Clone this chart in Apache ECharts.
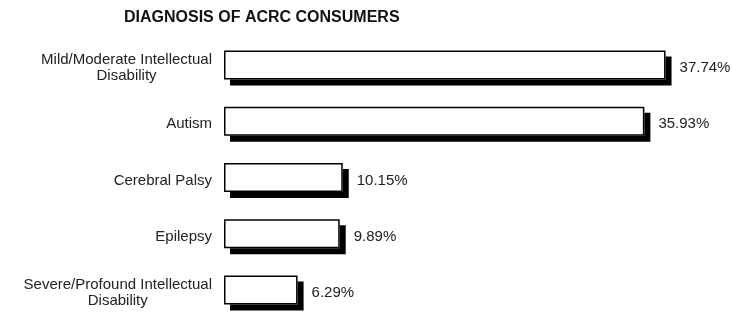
<!DOCTYPE html>
<html>
<head>
<meta charset="utf-8">
<script src="https://cdn.jsdelivr.net/npm/echarts@6/dist/echarts.min.js"></script>
<style>
  html, body { margin: 0; padding: 0; background: #fff; }
  #chart { width: 732px; height: 318px; }
</style>
</head>
<body>
<div id="chart"></div>
<script>
const categories = [
  'Mild/Moderate Intellectual\nDisability',
  'Autism',
  'Cerebral Palsy',
  'Epilepsy',
  'Severe/Profound Intellectual\nDisability'
];
const shares = [37.74, 35.93, 10.15, 9.89, 6.29];

const chart = echarts.init(document.getElementById('chart'));
const labelFont = { fontFamily: '"Liberation Sans", Arial, sans-serif', fontSize: 15, color: '#222' };

chart.setOption({
  animation: false,
  title: {
    text: 'DIAGNOSIS OF ACRC CONSUMERS',
    left: 124,
    top: 10,
    padding: 0,
    textStyle: {
      fontFamily: '"Liberation Sans", Arial, sans-serif',
      fontWeight: 'bold',
      fontSize: 16,
      color: '#111'
    }
  },
  grid: { left: 224, top: 36.75, width: 468, height: 287.5, containLabel: false },
  xAxis: {
    type: 'value',
    min: 0,
    max: 40,
    show: false
  },
  yAxis: {
    type: 'category',
    data: categories,
    inverse: true,
    axisLine: { show: false },
    axisTick: { show: false },
    splitLine: { show: false },
    axisLabel: {
      margin: 12,
      align: 'right',
      padding: [6, 0, 0, 0],
      ...labelFont,
      lineHeight: 16,
      formatter: v => v.split('\n').map(s => `{c|${s}}`).join('\n'),
      rich: {
        c: { ...labelFont, lineHeight: 16, align: 'center' }
      }
    }
  },
  series: [
    {
      // filled bar that casts the solid black drop shadow
      type: 'bar',
      data: shares,
      barWidth: 29,
      barGap: '-100%',
      silent: true,
      itemStyle: {
        color: '#fff',
        shadowColor: '#000',
        shadowBlur: 0,
        shadowOffsetX: 6,
        shadowOffsetY: 6
      }
    },
    {
      // outline on top, no shadow
      type: 'bar',
      data: shares,
      barWidth: 29,
      barGap: '-100%',
      itemStyle: {
        color: 'rgba(0,0,0,0)',
        borderColor: '#000',
        borderWidth: 1.5
      },
      label: {
        show: true,
        position: 'right',
        distance: 14,
        offset: [0, 3],
        ...labelFont,
        formatter: p => p.value.toFixed(2) + '%'
      }
    }
  ]
});
</script>
</body>
</html>
